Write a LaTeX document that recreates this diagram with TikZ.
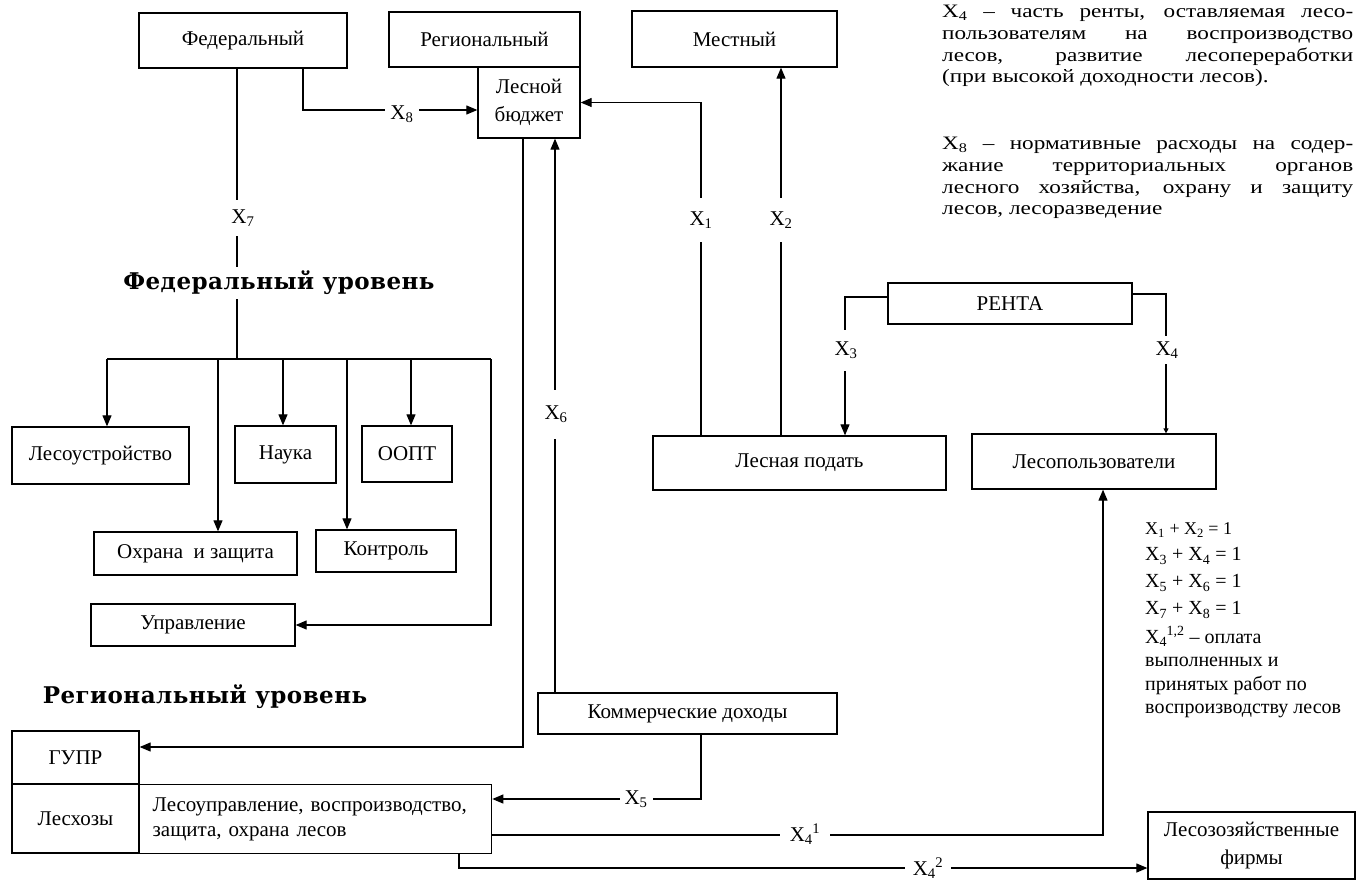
\documentclass[tikz,border=0pt]{standalone}
\usepackage{fontspec}
\setmainfont{Liberation Serif}
\newfontfamily\headfont{DejaVu Serif}[LetterSpace=2]
\newfontfamily\parafont{Liberation Serif}[FakeStretch=1.22]
\usetikzlibrary{arrows.meta}
\newcommand\XX[2]{X\textsubscript{#1}\kern-0.5pt\textsuperscript{#2}}
\newcommand\Xs[1]{X\textsubscript{#1}}
\newcommand\boxat[6]{\node[box,minimum width={(#4-#2)*1pt},minimum height={(#5-#3)*1pt}] (#1) at ({(#2+#4)/2},{(#3+#5)/2}) {#6};}
\begin{document}
\begin{tikzpicture}[x=1pt,y=-1pt,
  box/.style={draw,line width=1.3pt,inner sep=2pt,align=center,font=\fontsize{21}{28}\selectfont},
  con/.style={line width=1.1pt},
  arr/.style={con,-{Triangle[length=11pt,width=9pt]}},
  arrs/.style={con,-{Triangle[length=5pt,width=5pt]}},
  lbl/.style={fill=white,inner xsep=5pt,inner ysep=10pt,font=\fontsize{21}{24}\selectfont},
  head/.style={fill=white,inner sep=4pt,font=\headfont\bfseries\fontsize{23}{26}\selectfont},
  note/.style={align=left,inner sep=0pt,font=\fontsize{20}{23.5}\selectfont}]
\fill[white] (0,0) rectangle (1356,880);
\useasboundingbox (0,0) rectangle (1356,880);
% boxes
\boxat{fed}{139}{13}{347}{68}{Федеральный}
\boxat{reg}{389}{12}{580}{67}{Региональный}
\boxat{lb}{478}{67}{580}{138}{Лесной\\бюджет}
\boxat{mest}{632}{11}{837}{67}{Местный}
\boxat{renta}{888}{283}{1132}{324}{РЕНТА}
\boxat{lp}{653}{436}{946}{490}{Лесная подать}
\boxat{lpol}{972}{434}{1216}{489}{Лесопользователи}
\boxat{lesu}{12}{427}{189}{484}{Лесоустройство}
\boxat{nauka}{235}{426}{336}{483}{Наука}
\boxat{oopt}{362}{426}{452}{482}{ООПТ}
\boxat{ohr}{94}{532}{297}{575}{Охрана \ и защита}
\boxat{kontr}{316}{530}{456}{572}{Контроль}
\boxat{upr}{91}{604}{295}{646}{Управление}
\boxat{kd}{538}{693}{837}{734}{Коммерческие доходы}
\boxat{gupr}{12}{731}{139}{784}{ГУПР}
\boxat{leshoz}{12}{784}{139}{853}{Лесхозы}
\node[box,anchor=north west,minimum width=352pt,minimum height=69pt,text width=326pt,inner xsep=13pt,align=left,font=\fontsize{21}{25}\selectfont] (lesupr) at (139,784) {Лесоуправление, воспроизводство,\\защита, охрана лесов};
\boxat{firms}{1148}{812}{1355}{879}{Лесозозяйственные\\фирмы}
% federal branch
\coordinate (br) at (237,359);
\coordinate (brl) at (107,359);
\coordinate (brr) at (491,359);
\draw[con] (fed.south -| br) -- (br);
\draw[con] (brl) -- (brr);
\draw[arr] (brl) -- (lesu.north -| brl);
\draw[arr] (br -| 218,0) -- (ohr.north -| 218,0);
\draw[arr] (br -| 283,0) -- (nauka.north -| 283,0);
\draw[arr] (br -| 347,0) -- (kontr.north -| 347,0);
\draw[arr] (br -| 411,0) -- (oopt.north -| 411,0);
\draw[arr] (brr) |- (upr.east);
\node[lbl] (l7) at (243,218) {\Xs{7}};
\node[head] (fedlev) at (279,283) {Федеральный уровень};
\node[head] (reglev) at (205,697) {Региональный уровень};
% X8
\draw[arr] (fed.south -| 303,0) |- (lb.west |- 0,110);
\node[lbl,inner ysep=4pt] (l8) at (402,114) {\Xs{8}};
% budget to GUPR
\draw[arr] (lb.south -| 523,0) |- (gupr.east |- 0,747);
% X6
\draw[arr] (kd.north -| 555,0) -- (lb.south -| 555,0);
\node[lbl,inner ysep=16pt] (l6) at (556,414) {\Xs{6}};
% X1, X2
\draw[arr] (lp.north -| 701,0) |- (lb.east);
\draw[arr] (lp.north -| 781,0) -- (mest.south -| 781,0);
\node[lbl,inner ysep=14pt] (l1) at (701,220) {\Xs{1}};
\node[lbl,inner ysep=14pt] (l2) at (781,220) {\Xs{2}};
% X3, X4
\draw[arr] (renta.west |- 0,297) -| (lp.north -| 845,0);
\node[lbl,inner ysep=12pt] (l3) at (846,350) {\Xs{3}};
\draw[arrs] (renta.east |- 0,294) -| (lpol.north -| 1166,0);
\node[lbl,inner ysep=6pt] (l4) at (1167,350) {\Xs{4}};
% X5
\draw[arr] (kd.south -| 701,0) |- (lesupr.east |- 0,799);
\node[lbl,inner ysep=4pt] (l5) at (636,799) {\Xs{5}};
% X4^1
\draw[arr] (lesupr.east |- 0,835) -| (lpol.south -| 1103,0);
\node[lbl,inner ysep=4pt,inner xsep=10pt] (l41) at (805,834) {\XX{4}{1}};
% X4^2
\draw[arr] (lesupr.south -| 459,0) |- (firms.west |- 0,868);
\node[lbl,inner ysep=4pt,inner xsep=8pt] (l42) at (928,868) {\XX{4}{2}};
% notes top right
\node[anchor=north west,inner sep=0pt,align=left,font=\parafont\fontsize{19}{21.7}\selectfont] (n4) at (942,5) {%
\makebox[411pt][s]{\Xs{4} – часть ренты, оставляемая лесо-}\\
\makebox[411pt][s]{пользователям на воспроизводство}\\
\makebox[411pt][s]{лесов, развитие лесопереработки}\\
(при высокой доходности лесов).};
\node[anchor=north west,inner sep=0pt,align=left,font=\parafont\fontsize{19}{21.7}\selectfont] (n8) at (942,137) {%
\makebox[411pt][s]{\Xs{8} – нормативные расходы на содер-}\\
\makebox[411pt][s]{жание территориальных органов}\\
\makebox[411pt][s]{лесного хозяйства, охрану и защиту}\\
лесов, лесоразведение};
% equations
\node[anchor=west,inner sep=0pt,font=\fontsize{18}{20}\selectfont] (e1) at (1145,530) {\Xs{1} + \Xs{2} = 1};
\node[anchor=west,inner sep=0pt,font=\fontsize{20}{22}\selectfont] (e2) at (1145,556) {\Xs{3} + \Xs{4} = 1};
\node[anchor=west,inner sep=0pt,font=\fontsize{20}{22}\selectfont] (e3) at (1145,583) {\Xs{5} + \Xs{6} = 1};
\node[anchor=west,inner sep=0pt,font=\fontsize{20}{22}\selectfont] (e4) at (1145,610) {\Xs{7} + \Xs{8} = 1};
\node[anchor=north west,note] (n12) at (1145,626) {\XX{4}{1,2} – оплата\\выполненных и\\принятых работ по\\воспроизводству лесов};
\end{tikzpicture}
\end{document}
